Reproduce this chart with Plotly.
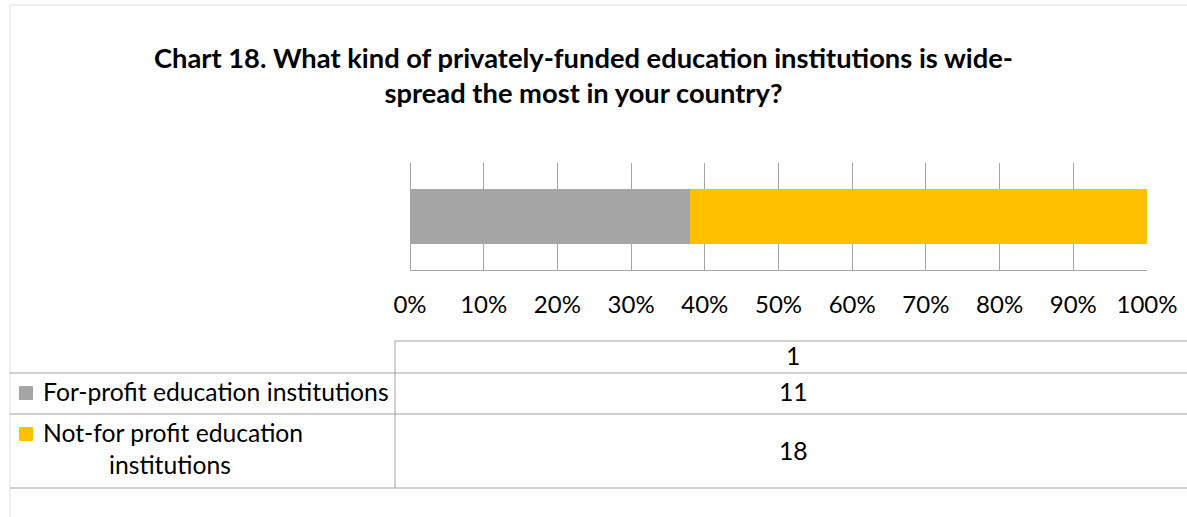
import plotly.graph_objects as go

# ---- data ----
categories = ["1"]
series_names = ["For-profit education institutions", "Not-for profit education institutions"]
for_profit = [11]
not_for_profit = [18]
colors = ["#A5A5A5", "#FFC000"]
tick_values = [0, 10, 20, 30, 40, 50, 60, 70, 80, 90, 100]
tick_labels = ["0%", "10%", "20%", "30%", "40%", "50%", "60%", "70%", "80%", "90%", "100%"]

W, H = 1187, 517
FONT = "Lato"


def px(x):
    return x / W


def py(y):
    return 1 - y / H


fig = go.Figure()
for name, vals, col in zip(series_names, [for_profit, not_for_profit], colors):
    fig.add_trace(go.Bar(
        y=categories, x=vals, name=name, orientation="h",
        marker=dict(color=col, line=dict(width=0)), width=0.514,
        showlegend=False, hoverinfo="x+name",
    ))

grid_col = "#A6A6A6"
fig.update_layout(
    width=W, height=H,
    margin=dict(l=0, r=0, t=0, b=0, autoexpand=False),
    paper_bgcolor="white", plot_bgcolor="white",
    barmode="stack", barnorm="percent",
    font=dict(family=FONT, color="#000000"),
    xaxis=dict(
        domain=[px(410), px(1147)], range=[0, 100],
        tickmode="array", tickvals=tick_values, ticktext=tick_labels,
        showgrid=True, gridcolor=grid_col, gridwidth=1,
        zeroline=True, zerolinecolor=grid_col, zerolinewidth=1,
        showline=True, linecolor=grid_col, linewidth=1,
        ticks="", ticklabelstandoff=13, automargin=False,
        tickfont=dict(family=FONT, size=24, color="#000000"),
        fixedrange=True,
    ),
    yaxis=dict(
        domain=[py(270), py(163)], range=[-0.5, 0.5],
        showticklabels=False, showgrid=False, zeroline=False,
        showline=False, fixedrange=True, automargin=False,
    ),
)

# Chart title
fig.add_annotation(
    x=px(583), y=py(75), xref="paper", yref="paper",
    text="<b>Chart 18. What kind of privately-funded education institutions is wide-<br>spread the most in your country?</b>",
    showarrow=False, align="center", xanchor="center", yanchor="middle",
    font=dict(family=FONT, size=27.3, color="#000000"),
)

# Outer chart frame (top and left edges)
frame_col = "#E0E0E0"
fig.add_shape(type="line", xref="paper", yref="paper",
              x0=px(10), x1=1, y0=py(5), y1=py(5), line=dict(color=frame_col, width=1))
fig.add_shape(type="line", xref="paper", yref="paper",
              x0=px(10), x1=px(10), y0=py(5), y1=0, line=dict(color=frame_col, width=1))

# Data table grid
tcol = "#A0A0A0"
fig.add_shape(type="line", xref="paper", yref="paper",
              x0=px(395), x1=1, y0=py(341), y1=py(341), line=dict(color=tcol, width=1))
for yy in (373, 414, 488):
    fig.add_shape(type="line", xref="paper", yref="paper",
                  x0=px(10), x1=1, y0=py(yy), y1=py(yy), line=dict(color=tcol, width=1))
fig.add_shape(type="line", xref="paper", yref="paper",
              x0=px(395), x1=px(395), y0=py(341), y1=py(488), line=dict(color=tcol, width=1))

cell_font = dict(family=FONT, size=24.7, color="#000000")

# Table header (category) and values
val_x = px(793)
for txt, yy in ((categories[0], 355), (str(for_profit[0]), 391), (str(not_for_profit[0]), 450)):
    fig.add_annotation(x=val_x, y=py(yy), xref="paper", yref="paper", text=txt,
                       showarrow=False, xanchor="center", yanchor="middle", font=cell_font)

# Row labels with legend keys
fig.add_shape(type="rect", xref="paper", yref="paper",
              x0=px(19), x1=px(33), y0=py(400), y1=py(386),
              fillcolor=colors[0], line=dict(width=0))
fig.add_annotation(x=px(41), y=py(391), xref="paper", yref="paper", text=series_names[0],
                   showarrow=False, xanchor="left", yanchor="middle", font=cell_font)

fig.add_shape(type="rect", xref="paper", yref="paper",
              x0=px(19), x1=px(33), y0=py(441), y1=py(427),
              fillcolor=colors[1], line=dict(width=0))
fig.add_annotation(x=px(41), y=py(432), xref="paper", yref="paper", text="Not-for profit education",
                   showarrow=False, xanchor="left", yanchor="middle", font=cell_font)
fig.add_annotation(x=px(170), y=py(464), xref="paper", yref="paper", text="institutions",
                   showarrow=False, xanchor="center", yanchor="middle", font=cell_font)

fig.write_html("out.html")
